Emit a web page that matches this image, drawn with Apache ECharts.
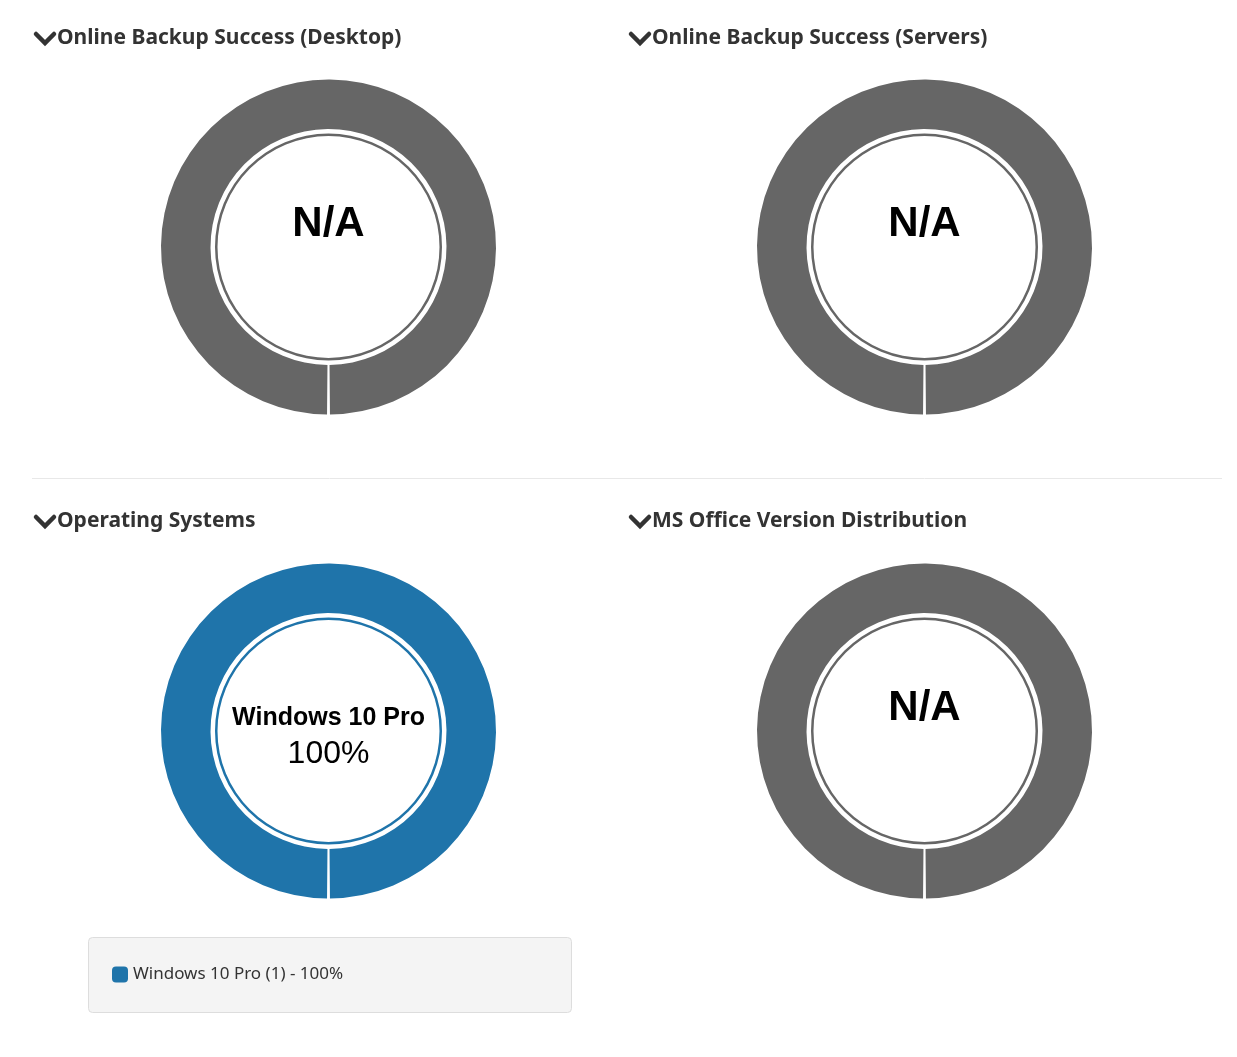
<!DOCTYPE html>
<html>
<head>
<meta charset="utf-8">
<script src="https://cdn.jsdelivr.net/npm/echarts@6/dist/echarts.min.js"></script>
<style>
html, body { margin: 0; padding: 0; background: #fff; }
#main { width: 1237px; height: 1057px; }
</style>
</head>
<body>
<div id="main"></div>
<script>
// panel titles, in reading order
var chartTitles = ['Online Backup Success (Desktop)', 'Online Backup Success (Servers)', 'Operating Systems', 'MS Office Version Distribution'];

// operating systems: only one entry reported
var osNames = ['Windows 10 Pro'];
var osCounts = [1];

// the three other panels have no data
var emptyLabel = 'N/A';
var emptyValue = [1];

var GRAY = '#666666', BLUE = '#1f74aa';

var centers = [[328.5, 247], [924.5, 247], [328.5, 731], [924.5, 731]];
var titlePos = [[57, 28], [652, 28], [57, 511], [652, 511]];

var chart = echarts.init(document.getElementById('main'));

function ringSeries(center, data, color, label)
{
    return {
        type: 'pie',
        center: center,
        radius: [118, 167.5],
        startAngle: -90,
        padAngle: 1,
        silent: true,
        itemStyle: { color: color, borderWidth: 0 },
        label: label,
        labelLine: { show: false },
        data: data
    };
}

function innerLine(center, color)
{
    return {
        type: 'pie',
        center: center,
        radius: [111, 113.5],
        silent: true,
        itemStyle: { color: color },
        label: { show: false },
        labelLine: { show: false },
        data: [{ value: 1, name: '' }]
    };
}

var total = osCounts.reduce(function (a, b) { return a + b; }, 0);

var naLabel = {
    show: true,
    position: 'center',
    formatter: '{n|' + emptyLabel + '}\n{e| }',
    rich: {
        n: { fontFamily: 'Liberation Sans, Arial', fontWeight: 'bold', fontSize: 42, color: '#000', lineHeight: 48 },
        e: { fontSize: 2, lineHeight: 46 }
    }
};

var osLabel = {
    show: true,
    position: 'center',
    formatter: function (p) {
        return '{e| }\n{a|' + p.name + '}\n{b|' + Math.round(p.value * 100 / total) + '%}';
    },
    rich: {
        a: { fontFamily: 'Liberation Sans, Arial', fontWeight: 'bold', fontSize: 25, color: '#000', lineHeight: 36 },
        b: { fontFamily: 'Liberation Sans, Arial', fontSize: 32, color: '#000', lineHeight: 36 },
        e: { fontSize: 2, lineHeight: 10 }
    }
};

var osData = osNames.map(function (n, i) { return { name: n, value: osCounts[i] }; });

var series = [
    ringSeries(centers[0], [{ name: emptyLabel, value: emptyValue[0] }], GRAY, naLabel),
    innerLine(centers[0], GRAY),
    ringSeries(centers[1], [{ name: emptyLabel, value: emptyValue[0] }], GRAY, naLabel),
    innerLine(centers[1], GRAY),
    ringSeries(centers[2], osData, BLUE, osLabel),
    innerLine(centers[2], BLUE),
    ringSeries(centers[3], [{ name: emptyLabel, value: emptyValue[0] }], GRAY, naLabel),
    innerLine(centers[3], GRAY)
];

var titles = chartTitles.map(function (t, i) {
    return {
        text: t,
        left: titlePos[i][0],
        top: titlePos[i][1],
        padding: 0,
        textStyle: { fontFamily: 'Noto Sans', fontWeight: 'bold', fontSize: 21, color: '#333' }
    };
});

// the little chevrons in front of each title
var graphics = titlePos.map(function (p) {
    var x = p[0] - 21, y = p[1] + 6;
    return {
        type: 'polyline',
        shape: { points: [[x, y], [x + 9, y + 9], [x + 18, y]] },
        style: { stroke: '#333', lineWidth: 4.5, fill: null, lineCap: 'round', lineJoin: 'miter' },
        silent: true
    };
});

graphics.push({
    type: 'line',
    shape: { x1: 32, y1: 478.5, x2: 1222, y2: 478.5 },
    style: { stroke: '#e8e8e8', lineWidth: 1 },
    silent: true
});

graphics.push({
    type: 'rect',
    shape: { x: 88.5, y: 937.5, width: 483, height: 75, r: 4 },
    style: { fill: '#f4f4f4', stroke: '#dddddd', lineWidth: 1 },
    silent: true,
    z: -1
});

var option = {
    animation: false,
    title: titles,
    legend: {
        data: osNames,
        left: 112,
        top: 966,
        padding: 0,
        icon: 'roundRect',
        itemWidth: 16,
        itemHeight: 16,
        itemGap: 4,
        selectedMode: false,
        textStyle: { fontFamily: 'Noto Sans', fontSize: 17, color: '#333' },
        formatter: function (name) {
            var i = osNames.indexOf(name);
            return name + ' (' + osCounts[i] + ') - ' + Math.round(osCounts[i] * 100 / total) + '%';
        }
    },
    graphic: graphics,
    series: series
};

chart.setOption(option);
</script>
</body>
</html>
